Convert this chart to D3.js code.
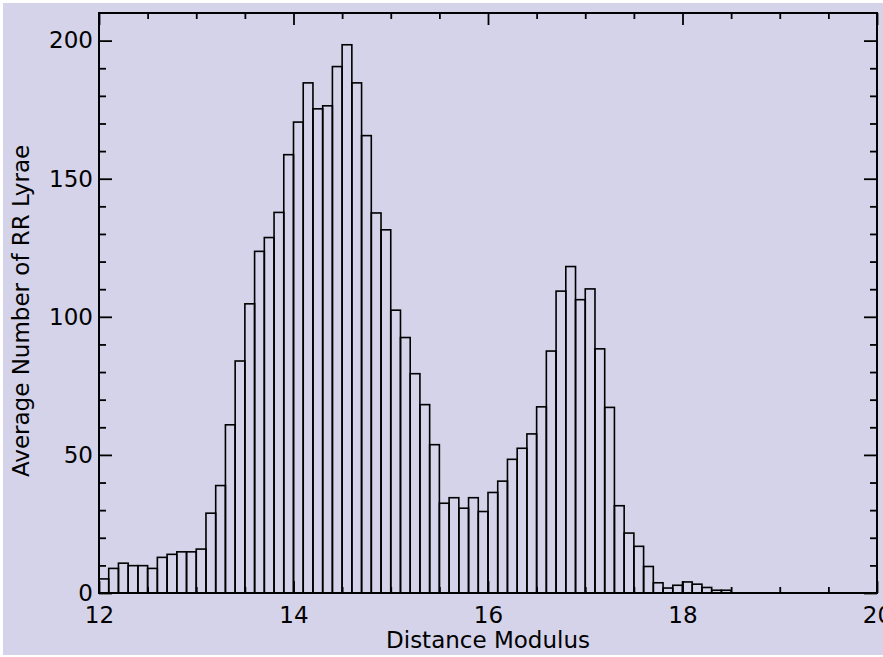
<!DOCTYPE html>
<html>
<head>
<meta charset="utf-8">
<script src="https://cdn.jsdelivr.net/npm/d3@7/dist/d3.min.js"></script>
<style>
  html, body { margin: 0; padding: 0; background: #ffffff; }
  svg { display: block; }
  text { font-family: "DejaVu Sans", sans-serif; fill: #000; }
</style>
</head>
<body>
<svg id="chart" width="883" height="657"></svg>
<script>
// ---- Data ----
const binEdges = [
  12.0, 12.1, 12.2, 12.3, 12.4, 12.5, 12.6, 12.7, 12.8, 12.9,
  13.0, 13.1, 13.2, 13.3, 13.4, 13.5, 13.6, 13.7, 13.8, 13.9,
  14.0, 14.1, 14.2, 14.3, 14.4, 14.5, 14.6, 14.7, 14.8, 14.9,
  15.0, 15.1, 15.2, 15.3, 15.4, 15.5, 15.6, 15.7, 15.8, 15.9,
  16.0, 16.1, 16.2, 16.3, 16.4, 16.5, 16.6, 16.7, 16.8, 16.9,
  17.0, 17.1, 17.2, 17.3, 17.4, 17.5, 17.6, 17.7, 17.8, 17.9,
  18.0, 18.1, 18.2, 18.3, 18.4
];
const binWidth = 0.1;
const counts = [
  5.1, 8.9, 10.8, 9.9, 9.9, 8.9, 12.9, 14.0, 14.9, 14.9,
  15.9, 28.9, 38.9, 60.9, 84.0, 104.7, 123.7, 128.7, 137.8, 158.7,
  170.5, 184.7, 175.3, 176.4, 190.6, 198.5, 184.7, 165.6, 137.6, 131.5,
  102.4, 92.5, 79.4, 68.2, 53.7, 32.5, 34.5, 30.7, 34.5, 29.5,
  36.4, 40.5, 48.4, 52.4, 57.6, 67.4, 87.6, 109.3, 118.2, 106.2,
  110.1, 88.4, 67.2, 31.6, 21.7, 16.9, 9.6, 3.7, 1.8, 2.8,
  4.0, 3.2, 2.0, 1.0, 1.0
];
const xMajorTicks = [12, 14, 16, 18, 20];
const xMinorTicks = [12.5, 13, 13.5, 14.5, 15, 15.5, 16.5, 17, 17.5, 18.5, 19, 19.5];
const yMajorTicks = [0, 50, 100, 150, 200];
const yMinorTicks = [10, 20, 30, 40, 60, 70, 80, 90, 110, 120, 130, 140, 160, 170, 180, 190];
const xDomain = [12, 20];
const yDomain = [0, 210];
const xTitle = "Distance Modulus";
const yTitle = "Average Number of RR Lyrae";

// ---- Layout ----
const W = 883, H = 657;
const plot = { left: 99, right: 877, top: 13, bottom: 593 };
const bg = "#d4d3e9";

const svg = d3.select("#chart");
svg.append("rect").attr("x", 3).attr("y", 3).attr("width", W - 3).attr("height", H - 5)
  .attr("fill", bg);

const x = d3.scaleLinear().domain(xDomain).range([plot.left, plot.right]);
const y = d3.scaleLinear().domain(yDomain).range([plot.bottom, plot.top]);

// ---- Bars ----
const bars = binEdges.map((e, i) => ({ x0: e, x1: e + binWidth, v: counts[i] }));
svg.append("g").selectAll("rect").data(bars).join("rect")
  .attr("x", d => x(d.x0))
  .attr("y", d => y(d.v))
  .attr("width", d => x(d.x1) - x(d.x0))
  .attr("height", d => y(0) - y(d.v))
  .attr("fill", "none")
  .attr("stroke", "#000")
  .attr("stroke-width", 1.6);

// ---- Axes ----
function styleAxis(g) {
  g.select(".domain").remove();
  g.selectAll(".tick line").attr("stroke", "#000").attr("stroke-width", 1.8);
  g.selectAll("text").attr("font-size", 23).attr("font-family", "DejaVu Sans, sans-serif");
}
const fmt = d3.format("d");

// bottom
svg.append("g").attr("transform", `translate(0,${plot.bottom})`)
  .call(d3.axisBottom(x).tickValues(xMajorTicks).tickSize(-12).tickPadding(14).tickFormat(fmt))
  .call(styleAxis);
svg.append("g").attr("transform", `translate(0,${plot.bottom})`)
  .call(d3.axisBottom(x).tickValues(xMinorTicks).tickSize(-6).tickFormat(""))
  .call(styleAxis);
// top
svg.append("g").attr("transform", `translate(0,${plot.top})`)
  .call(d3.axisTop(x).tickValues(xMajorTicks).tickSize(-12).tickFormat(""))
  .call(styleAxis);
svg.append("g").attr("transform", `translate(0,${plot.top})`)
  .call(d3.axisTop(x).tickValues(xMinorTicks).tickSize(-6).tickFormat(""))
  .call(styleAxis);
// left
svg.append("g").attr("transform", `translate(${plot.left},0)`)
  .call(d3.axisLeft(y).tickValues(yMajorTicks).tickSize(-13).tickPadding(6).tickFormat(fmt))
  .call(styleAxis);
svg.append("g").attr("transform", `translate(${plot.left},0)`)
  .call(d3.axisLeft(y).tickValues(yMinorTicks).tickSize(-7).tickFormat(""))
  .call(styleAxis);
// right
svg.append("g").attr("transform", `translate(${plot.right},0)`)
  .call(d3.axisRight(y).tickValues(yMajorTicks).tickSize(-13).tickFormat(""))
  .call(styleAxis);
svg.append("g").attr("transform", `translate(${plot.right},0)`)
  .call(d3.axisRight(y).tickValues(yMinorTicks).tickSize(-7).tickFormat(""))
  .call(styleAxis);

// frame
svg.append("rect")
  .attr("x", plot.left).attr("y", plot.top)
  .attr("width", plot.right - plot.left).attr("height", plot.bottom - plot.top)
  .attr("fill", "none").attr("stroke", "#000").attr("stroke-width", 2);

// ---- Titles ----
svg.append("text")
  .attr("x", (plot.left + plot.right) / 2).attr("y", 648)
  .attr("text-anchor", "middle").attr("font-size", 23)
  .text(xTitle);
svg.append("text")
  .attr("transform", `translate(29,${(plot.top + plot.bottom) / 2 + 8}) rotate(-90)`)
  .attr("text-anchor", "middle").attr("font-size", 23)
  .text(yTitle);
</script>
</body>
</html>
